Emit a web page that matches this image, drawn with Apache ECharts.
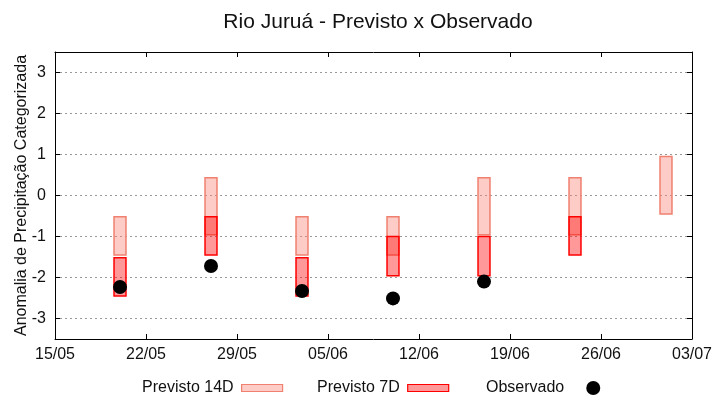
<!DOCTYPE html>
<html><head><meta charset="utf-8">
<script src="https://cdn.jsdelivr.net/npm/echarts@6/dist/echarts.min.js"></script>
<style>html,body{margin:0;padding:0;background:#fff}#c{width:720px;height:400px}</style>
</head><body><div id="c"></div>
<script>
var xTickLabels = ['15/05','22/05','29/05','05/06','12/06','19/06','26/06','03/07'];
var yTicks = [-3,-2,-1,0,1,2,3];
var forecastDates = ['20/05','27/05','03/06','10/06','17/06','24/06','01/07'];
var p14Low  = [-1.45,-0.96,-1.45,-1.45,-0.96,-0.96,-0.45];
var p14High = [-0.52, 0.43,-0.52,-0.52, 0.43, 0.43, 0.95];
var p7Low   = [-2.45,-1.45,-2.45,-1.96,-1.96,-1.45, null];
var p7High  = [-1.52,-0.52,-1.52,-1.00,-1.00,-0.52, null];
var obsDates = ['20/05','27/05','03/06','10/06','17/06'];
var obsValues = [-2.23,-1.72,-2.33,-2.51,-2.10];

var YEAR = 2024;
function dayOf(s){var p=s.split('/');return Date.UTC(YEAR,+p[1]-1,+p[0]);}
var day0 = dayOf(xTickLabels[0]);
function off(s){return Math.round((dayOf(s)-day0)/86400000);}
var xMax = off(xTickLabels[xTickLabels.length-1]);

function rangeData(lo,hi){
  var out=[];
  for(var i=0;i<forecastDates.length;i++){ if(lo[i]!=null) out.push([off(forecastDates[i]),lo[i],hi[i]]); }
  return out;
}
var scatterData = obsDates.map(function(d,i){return [off(d),obsValues[i]];});

function makeRender(fill,stroke){
  return function(params,api){
    var x=api.value(0), lo=api.value(1), hi=api.value(2);
    var p1=api.coord([x-0.46,hi]), p2=api.coord([x+0.46,lo]);
    return {type:'rect',shape:{x:p1[0],y:p1[1],width:p2[0]-p1[0],height:p2[1]-p1[1]},
      style:{fill:fill,stroke:stroke,lineWidth:1.5}};
  };
}
var c14f='rgba(250,128,114,0.4)', c14s='#f08070';
var c7f='rgba(255,0,0,0.4)', c7s='#ff0000';
var font='Liberation Sans, Arial, sans-serif';
var lineBox={show:true,onZero:false,lineStyle:{color:'#000',width:1}};
var tickIn={show:true,inside:true,length:5,lineStyle:{color:'#000'}};
var legText={fontFamily:font,fontSize:16,color:'#111',padding:[0,3,0,0]};

var chart = echarts.init(document.getElementById('c'));
chart.setOption({
  animation:false,
  title:{text:'Rio Juruá - Previsto x Observado',left:373,textAlign:'center',top:7,
    textStyle:{fontFamily:font,fontSize:21,fontWeight:'normal',color:'#111'}},
  grid:{left:55,right:28,top:52,bottom:61,containLabel:false,outerBoundsMode:'none'},
  legend:[
    {data:[{name:'Previsto 14D',icon:'rect',itemStyle:{color:c14f,borderColor:c14s,borderWidth:1.2}}],
      left:142,top:380,padding:0,align:'right',itemWidth:41,itemHeight:7,textStyle:legText},
    {data:[{name:'Previsto 7D',icon:'rect',itemStyle:{color:c7f,borderColor:c7s,borderWidth:1.2}}],
      left:317,top:380,padding:0,align:'right',itemWidth:41,itemHeight:7,textStyle:legText},
    {data:[{name:'Observado',icon:'circle',itemStyle:{color:'#000'}}],
      left:486,top:380,padding:0,align:'right',itemWidth:14,itemHeight:14,itemGap:0,
      textStyle:{fontFamily:font,fontSize:16,color:'#111',padding:[0,17,0,0]}}
  ],
  xAxis:[
    {type:'value',min:0,max:xMax,interval:7,position:'bottom',
      axisLine:lineBox,axisTick:tickIn,splitLine:{show:false},
      axisLabel:{fontFamily:font,fontSize:16,color:'#111',margin:8,
        formatter:function(v){return xTickLabels[Math.round(v/7)]||'';}}},
    {type:'value',min:0,max:xMax,interval:7,position:'top',
      axisLine:lineBox,axisTick:tickIn,splitLine:{show:false},axisLabel:{show:false}}
  ],
  yAxis:[
    {type:'value',min:-3.5,max:3.5,position:'left',
      name:'Anomalia de Precipitação Categorizada',nameLocation:'middle',nameGap:25,nameRotate:90,
      nameMoveOverlap:false,
      nameTextStyle:{fontFamily:font,fontSize:16,color:'#111'},
      axisLine:lineBox,
      axisTick:{show:true,inside:true,length:5,customValues:yTicks,lineStyle:{color:'#000'}},
      axisLabel:{fontFamily:font,fontSize:16,color:'#111',margin:9,customValues:yTicks},
      splitLine:{show:true,lineStyle:{color:'#999',type:[2,3],width:1}}},
    {type:'value',min:-3.5,max:3.5,position:'right',
      axisLine:lineBox,
      axisTick:{show:true,inside:true,length:5,customValues:yTicks,lineStyle:{color:'#000'}},
      axisLabel:{show:false},splitLine:{show:false}}
  ],
  series:[
    {name:'Previsto 14D',type:'custom',renderItem:makeRender(c14f,c14s),data:rangeData(p14Low,p14High),
      encode:{x:0,y:[1,2]},itemStyle:{color:c14f,borderColor:c14s},z:2},
    {name:'Previsto 7D',type:'custom',renderItem:makeRender(c7f,c7s),data:rangeData(p7Low,p7High),
      encode:{x:0,y:[1,2]},itemStyle:{color:c7f,borderColor:c7s},z:3},
    {name:'Observado',type:'scatter',data:scatterData,symbol:'circle',symbolSize:14,
      itemStyle:{color:'#000',opacity:1},z:4}
  ]
});
</script></body></html>
